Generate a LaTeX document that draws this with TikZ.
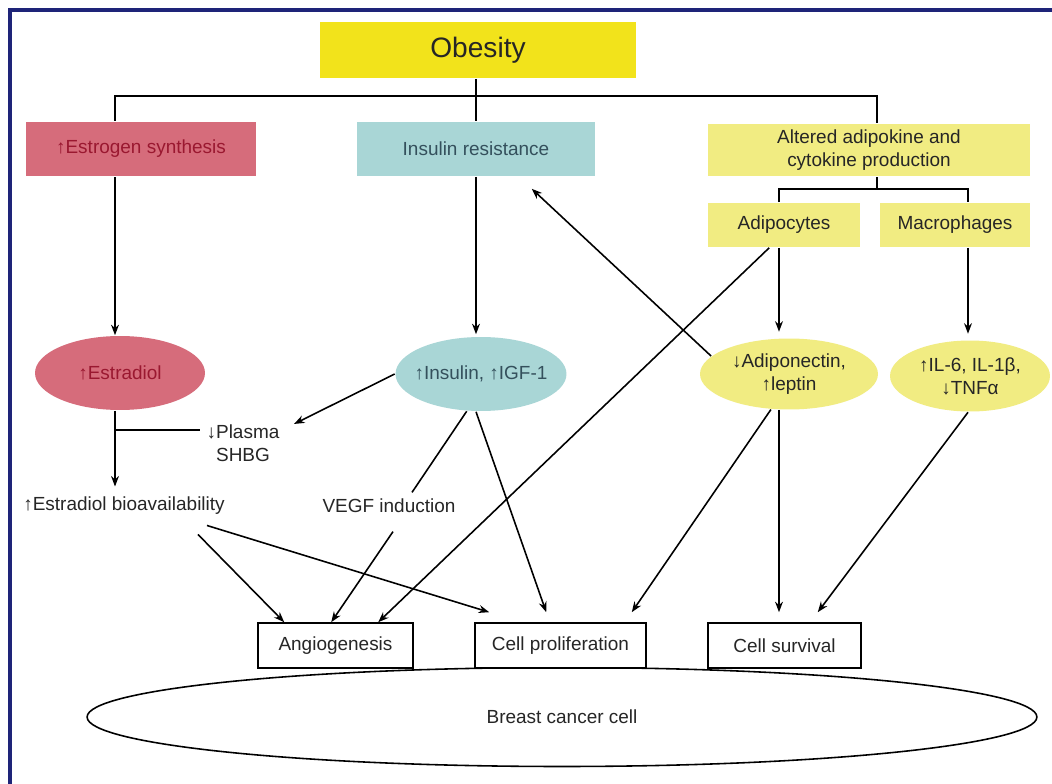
\documentclass[tikz,border=0pt]{standalone}
\usepackage{fontspec}
\setmainfont{Liberation Sans}
\usetikzlibrary{shapes.geometric,calc,arrows.meta}

\definecolor{obyellow}{HTML}{F2E31B}
\definecolor{paleyellow}{HTML}{F1EC82}
\definecolor{rosered}{HTML}{D66C7B}
\definecolor{darkrose}{HTML}{9A1830}
\definecolor{paleteal}{HTML}{A9D6D6}
\definecolor{slate}{HTML}{34505C}
\definecolor{framenavy}{HTML}{1E2478}

\begin{document}
\begin{tikzpicture}[x=0.02cm,y=-0.02cm,line width=0.9pt,
	every node/.style={text=black!85,font=\fontsize{10.8}{13}\selectfont},
	box/.style={rectangle,inner sep=0pt,align=center},
	oval/.style={ellipse,inner sep=0pt,align=center},
	arr/.style={-{Stealth[length=6pt,width=4.5pt]}}]
	\useasboundingbox[fill=white] (0,0) rectangle (1052,784);
	\draw[framenavy,line width=2pt] (1052,10) -- (10,10) -- (10,784);

	% top level
	\node[box,fill=obyellow,minimum width=6.32cm,minimum height=1.12cm,font=\fontsize{16}{18}\selectfont] (obesity) at (478,50) {Obesity};
	\node[box,fill=rosered,text=darkrose,minimum width=4.6cm,minimum height=1.1cm] (estro) at (141,149) {↑Estrogen synthesis};
	\node[box,fill=paleteal,text=slate,minimum width=4.76cm,minimum height=1.08cm] (insres) at (476,149) {Insulin resistance};
	\node[box,fill=paleyellow,minimum width=6.44cm,minimum height=1.06cm] (altered) at (869,150) {Altered adipokine and\\cytokine production};
	\node[box,fill=paleyellow,minimum width=3.04cm,minimum height=0.88cm] (adipo) at (784,225) {Adipocytes};
	\node[box,fill=paleyellow,minimum width=3.02cm,minimum height=0.88cm] (macro) at (955,225) {Macrophages};

	% ellipses
	\node[oval,fill=rosered,text=darkrose,minimum width=3.4cm,minimum height=1.48cm] (estradiol) at (120,373) {↑Estradiol};
	\node[oval,fill=paleteal,text=slate,inner xsep=-12pt,minimum width=3.42cm,minimum height=1.48cm] (insulin) at (481,374) {↑Insulin, ↑IGF-1};
	\node[oval,fill=paleyellow,minimum width=3.56cm,minimum height=1.42cm] (adipon) at (789,374) {↓Adiponectin,\\↑leptin};
	\node[oval,fill=paleyellow,minimum width=3.2cm,minimum height=1.42cm] (il6) at (970,376) {↑IL-6, IL-1β,\\↓TNFα};

	% free labels
	\node[align=center] (plasma) at (243,443) {↓Plasma\\SHBG};
	\node (bioav) at (124,506) {↑Estradiol bioavailability};
	\node (vegf) at (389,506) {VEGF induction};

	% outcomes
	\node[oval,draw,minimum width=19cm,minimum height=1.98cm] (cell) at (562,717) {Breast cancer cell};
	\node[box,draw,fill=white,minimum width=3.1cm,minimum height=0.9cm] (angio) at (335.5,645.5) {Angiogenesis};
	\node[box,draw,fill=white,minimum width=3.42cm,minimum height=0.9cm] (prolif) at (560.5,645.5) {Cell proliferation};
	\node[box,draw,fill=white,minimum width=3.06cm,minimum height=0.9cm] (surv) at (784.5,645.5) {Cell survival};

	% column positions
	\coordinate (xA) at (115,0);
	\coordinate (xD) at (779,0);
	\coordinate (xM) at (968,0);
	\coordinate (bus) at (476,96);
	\coordinate (subbus) at (877,189);

	\draw (obesity.south -| bus) -- (insres.north -| bus);
	\draw (estro.north -| xA) |- (bus) -| (altered.north -| subbus);
	\draw (altered.south -| subbus) -- (subbus);
	\draw (adipo.north -| xD) |- (subbus) -| (macro.north -| xM);

	\draw[arr] (estro.south -| xA) -- (estradiol.north -| xA);
	\draw[arr] (insres.south -| bus) -- ($(insulin.north -| bus)+(0,-2)$);
	\draw[arr] (adipo.south -| xD) -- ($(adipon.north -| xD)+(0,-6)$);
	\draw[arr] (macro.south -| xM) -- ($(il6.north -| xM)+(0,-6)$);
	\draw[arr] (estradiol.south -| xA) -- ($(bioav.north -| xA)+(0,-4)$);
	\draw (xA |- 0,430) -- (plasma.west |- 0,430);
	\draw[arr] (insulin.west) -- ($(plasma.north east)+(8,6)$);
	\draw (insulin.-111) -- ($(vegf.north)+(23,0)$);
	\draw[arr] (adipon.167) -- ($(insres.south east)+(-64,12)$);

	% into the outcomes
	\draw[arr] ($(bioav.south)+(74,13)$) -- ($(angio.north west)+(27,0)$);
	\draw[arr] ($(bioav.south)+(83,4)$) -- ($(prolif.north west)+(15,-10)$);
	\draw[arr] ($(vegf.south)+(4,12)$) -- ($(angio.north west)+(74,0)$);
	\draw[arr] ($(adipo.south west)+(62,0)$) -- ($(angio.north west)+(121,0)$);
	\draw[arr] ($(insulin.south)+(-5,0)$) -- ($(prolif.north west)+(72,-10)$);
	\draw[arr] (adipon.-117) -- ($(prolif.north east)+(-15,-10)$);
	\draw[arr] (adipon.south -| xD) -- ($(surv.north -| xD)+(0,-10)$);
	\draw[arr] (il6.south -| xM) -- ($(surv.north east)+(-44,-10)$);
\end{tikzpicture}
\end{document}
